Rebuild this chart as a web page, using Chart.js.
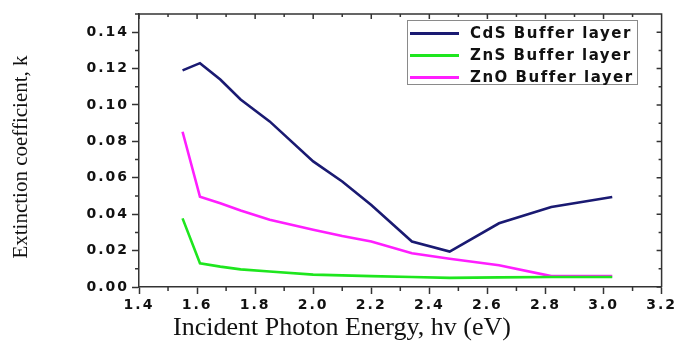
<!DOCTYPE html>
<html>
<head>
<meta charset="utf-8">
<script src="https://cdn.jsdelivr.net/npm/chart.js@4.4.1/dist/chart.umd.min.js"></script>
<style>
    body { margin: 0; background: #fff; }
    #wrap { position: relative; width: 680px; height: 344px; }
    #legend {
        position: absolute; left: 407px; top: 20px; width: 231px; height: 65px;
        box-sizing: border-box; border: 1px solid #8a8a8a; background: #fff;
        font: bold 15px "DejaVu Sans", sans-serif; letter-spacing: 1.5px; color: #111;
    }
    .item { position: absolute; left: 2px; height: 22px; display: flex; align-items: center; white-space: nowrap; }
    .swatch { width: 49px; height: 3px; margin-right: 11px; }
</style>
</head>
<body>
<div id="wrap">
    <canvas id="kChart" width="680" height="344"></canvas>
    <div id="legend"></div>
</div>
<script>
// photon energy (eV), shared by all three curves
const energy = [1.55, 1.61, 1.68, 1.75, 1.85, 2.0, 2.1, 2.2, 2.34, 2.47, 2.64, 2.82, 3.03];
const cdsK = [0.119, 0.123, 0.114, 0.103, 0.091, 0.069, 0.058, 0.045, 0.025, 0.0195, 0.035, 0.044, 0.0495];
const znsK = [0.0377, 0.013, 0.0112, 0.0097, 0.0085, 0.0068, 0.0064, 0.006, 0.0055, 0.005, 0.0053, 0.0055, 0.0055];
const znoK = [0.0853, 0.0496, 0.046, 0.042, 0.037, 0.0315, 0.028, 0.025, 0.0185, 0.0155, 0.012, 0.006, 0.006];

const seriesLabels = ['CdS Buffer layer', 'ZnS Buffer layer', 'ZnO Buffer layer'];
const seriesColors = ['#1a1a72', '#1ee61e', '#ff1eff'];

const xTickLabels = ['1.4', '1.6', '1.8', '2.0', '2.2', '2.4', '2.6', '2.8', '3.0', '3.2'];
const yTickLabels = ['0.00', '0.02', '0.04', '0.06', '0.08', '0.10', '0.12', '0.14'];

const xTitle = 'Incident Photon Energy, hv (eV)';
const yTitle = 'Extinction coefficient, k';

const toPoints = (ys) => energy.map((x, i) => ({ x: x, y: ys[i] }));

// wide-looking tick text like the original figure
function spaceOut(chart) {
    chart.ctx.letterSpacing = '2px';
}

const framePlugin = {
    id: 'frame',
    beforeLayout: spaceOut,
    beforeDraw: spaceOut,
    afterDraw(chart) {
        const ctx = chart.ctx;
        const { left, right, top, bottom } = chart.chartArea;
        const xs = chart.scales.x, ys = chart.scales.y;
        ctx.save();
        ctx.strokeStyle = '#333';
        ctx.lineWidth = 1.5;
        ctx.beginPath();
        ctx.moveTo(left, top); ctx.lineTo(right, top); ctx.lineTo(right, bottom);
        // minor + inner ticks
        xs.ticks.forEach(t => {
            const px = xs.getPixelForValue(t.value);
            const major = xTickLabels.includes(t.value.toFixed(1));
            if (!major) { ctx.moveTo(px, bottom); ctx.lineTo(px, bottom + 4); }
            ctx.moveTo(px, top); ctx.lineTo(px, top + (major ? 5 : 3));
        });
        ys.ticks.forEach(t => {
            const py = ys.getPixelForValue(t.value);
            const major = yTickLabels.includes(t.value.toFixed(2));
            if (!major) { ctx.moveTo(left - 4, py); ctx.lineTo(left, py); }
            ctx.moveTo(right, py); ctx.lineTo(right - (major ? 5 : 3), py);
        });
        ctx.stroke();

        // axis titles
        ctx.letterSpacing = '0px';
        ctx.fillStyle = '#111';
        ctx.textAlign = 'center';
        ctx.textBaseline = 'alphabetic';
        ctx.font = '26px "Liberation Serif"';
        ctx.fillText(xTitle, 342, 335);
        ctx.translate(27, 157);
        ctx.rotate(-Math.PI / 2);
        ctx.font = '21px "Liberation Serif"';
        ctx.fillText(yTitle, 0, 0);
        ctx.restore();
    }
};

const tickFont = { family: 'DejaVu Sans', size: 14, weight: 'bold' };

const ctx = document.getElementById('kChart').getContext('2d');
const chart = new Chart(ctx, {
    type: 'line',
    data: {
        datasets: [cdsK, znsK, znoK].map((ys, i) => ({
            label: seriesLabels[i],
            data: toPoints(ys),
            borderColor: seriesColors[i],
            backgroundColor: seriesColors[i],
            borderWidth: 2.6,
            pointRadius: 0,
            tension: 0,
            fill: false
        }))
    },
    options: {
        responsive: false,
        animation: false,
        devicePixelRatio: 1,
        layout: { padding: { top: 14, right: 17, left: 0, bottom: 0 } },
        plugins: { legend: { display: false }, tooltip: { enabled: false } },
        scales: {
            x: {
                type: 'linear',
                min: 1.4,
                max: 3.2,
                afterFit: (scale) => { scale.height = 57; },
                border: { display: true, color: '#333', width: 1.5 },
                grid: {
                    drawOnChartArea: false,
                    tickLength: 7,
                    tickWidth: 1.5,
                    tickColor: (c) => xTickLabels.includes(c.tick.value.toFixed(1)) ? '#333' : 'rgba(0,0,0,0)'
                },
                ticks: {
                    stepSize: 0.1,
                    autoSkip: false,
                    maxRotation: 0,
                    padding: 3,
                    color: '#111',
                    font: tickFont,
                    callback: (v) => xTickLabels.includes(v.toFixed(1)) ? v.toFixed(1) : ''
                }
            },
            y: {
                min: 0,
                max: 0.15,
                afterFit: (scale) => { scale.width = 139; },
                border: { display: true, color: '#333', width: 1.5 },
                grid: {
                    drawOnChartArea: false,
                    tickLength: 7,
                    tickWidth: 1.5,
                    tickColor: (c) => yTickLabels.includes(c.tick.value.toFixed(2)) ? '#333' : 'rgba(0,0,0,0)'
                },
                ticks: {
                    stepSize: 0.01,
                    autoSkip: false,
                    padding: 3,
                    color: '#111',
                    font: tickFont,
                    callback: (v) => yTickLabels.includes(v.toFixed(2)) ? v.toFixed(2) : ''
                }
            }
        }
    },
    plugins: [framePlugin]
});

// legend box inside the plot, like the original
const legendBox = document.getElementById('legend');
chart.data.datasets.forEach((ds, i) => {
    const item = document.createElement('div');
    item.className = 'item';
    item.style.top = (1 + i * 22) + 'px';
    item.innerHTML = `<div class="swatch" style="background:${ds.borderColor}"></div><span>${ds.label}</span>`;
    legendBox.appendChild(item);
});
</script>
</body>
</html>
